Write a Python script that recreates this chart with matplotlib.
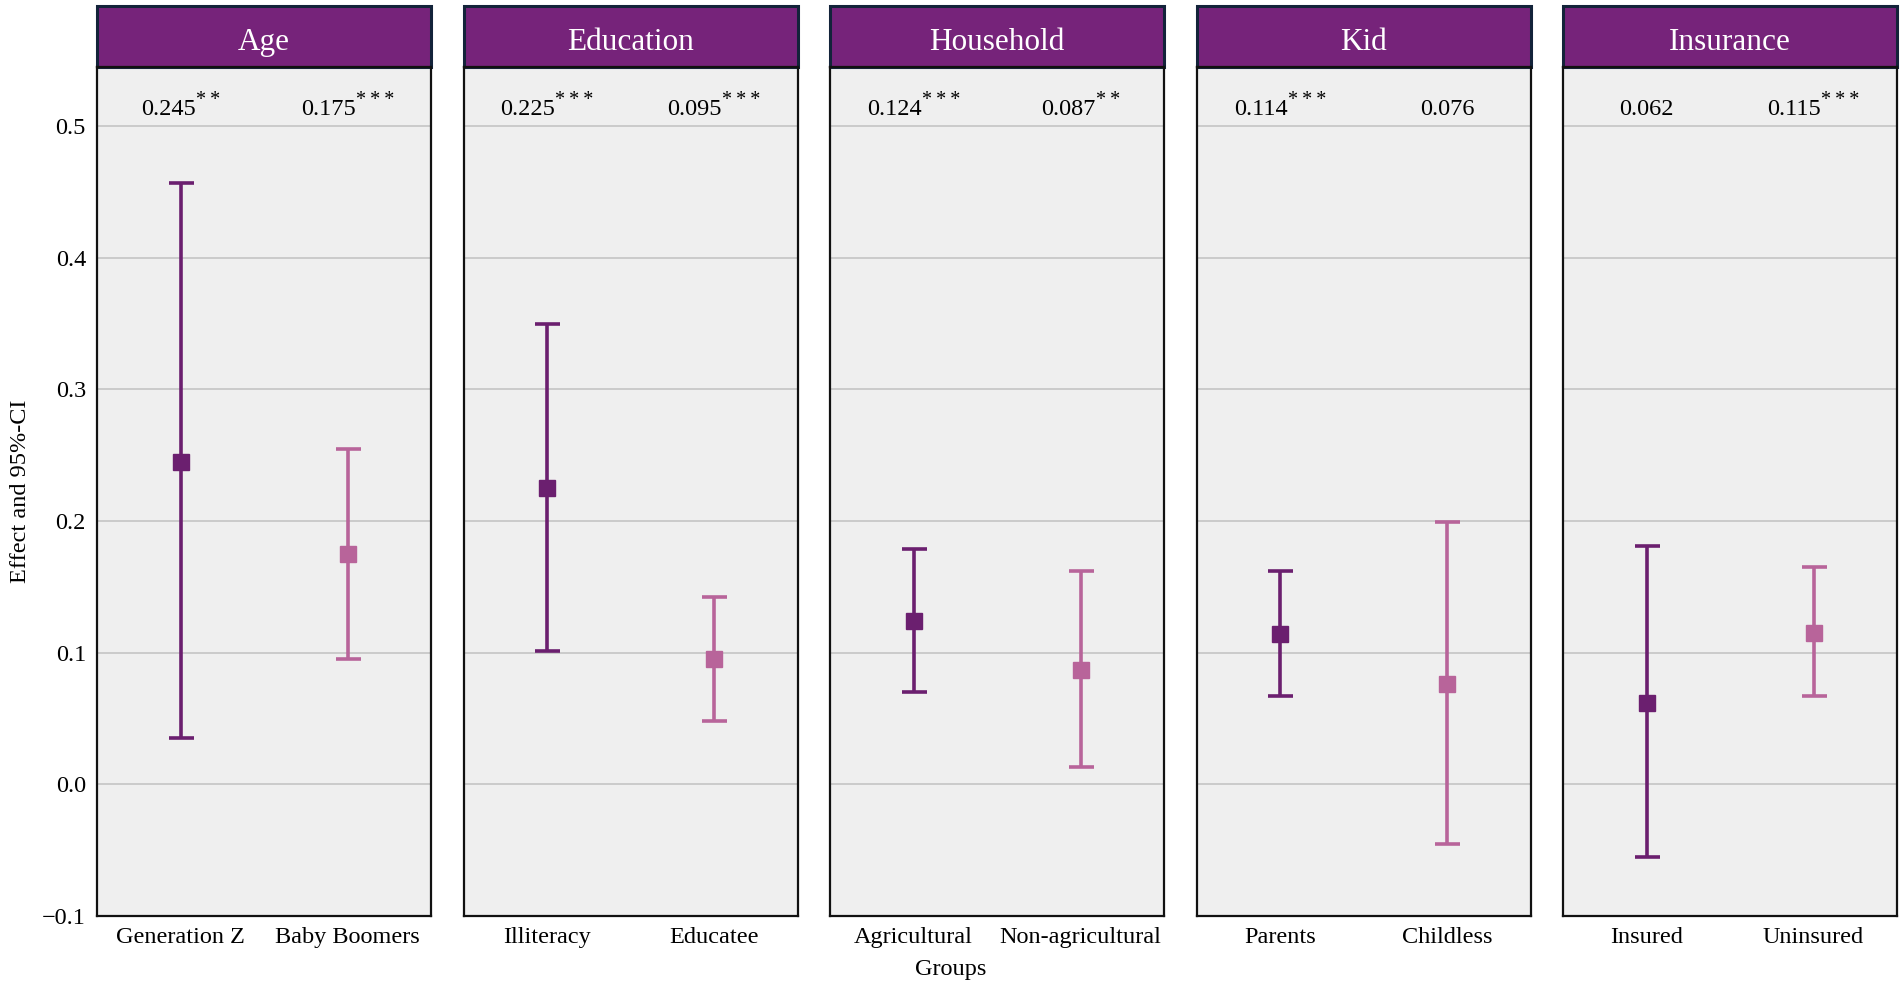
import matplotlib.pyplot as plt
from matplotlib.patches import Rectangle
from matplotlib.transforms import offset_copy

plt.rcParams['font.family'] = ['Liberation Serif', 'DejaVu Serif']

# panels and groups
panels = ['Age', 'Education', 'Household', 'Kid', 'Insurance']
groups = [['Generation Z', 'Baby Boomers'],
          ['Illiteracy', 'Educatee'],
          ['Agricultural', 'Non-agricultural'],
          ['Parents', 'Childless'],
          ['Insured', 'Uninsured']]
effects = [[0.245, 0.175], [0.225, 0.095], [0.124, 0.087], [0.114, 0.076], [0.062, 0.115]]
ci_low = [[0.035, 0.095], [0.101, 0.048], [0.070, 0.013], [0.067, -0.045], [-0.055, 0.067]]
ci_high = [[0.457, 0.255], [0.350, 0.142], [0.179, 0.162], [0.162, 0.199], [0.181, 0.165]]
stars = [['**', '***'], ['***', '***'], ['***', '**'], ['***', ''], ['', '***']]

colors = ['#6b1f6f', '#b8649a']
header_color = '#76237a'

fig = plt.figure(figsize=(19.02, 9.92), dpi=100)
W, H = 1902, 992
left0, width, gap = 97, 334, 32.5
bottom, top = 916, 67
header_h = 61

labels = []  # (axes, x, number text, star text)
for i, name in enumerate(panels):
    x0 = left0 + i * (width + gap)
    ax = fig.add_axes([x0 / W, 1 - bottom / H, width / W, (bottom - top) / H])
    ax.set_facecolor('#efefef')
    ax.set_xlim(-0.5, 1.5)
    ax.set_ylim(-0.1, 0.545)
    ax.set_yticks([-0.1, 0.0, 0.1, 0.2, 0.3, 0.4, 0.5])
    ax.yaxis.grid(True, color='#c4c4c4', linewidth=1.2)
    ax.set_axisbelow(True)
    for s in ax.spines.values():
        s.set_linewidth(1.6)
        s.set_color('#111111')

    for j in range(2):
        e = effects[i][j]
        err = [[e - ci_low[i][j]], [ci_high[i][j] - e]]
        ax.errorbar([j], [e], yerr=err, fmt='s', color=colors[j], ecolor=colors[j],
                    markersize=11.5, elinewidth=2.6, capsize=9, capthick=2.6, zorder=3)
        labels.append((ax, j, '%.3f' % e, stars[i][j]))

    ax.set_xticks([0, 1])
    ax.set_xticklabels(groups[i], fontsize=17.5)
    ax.tick_params(axis='both', length=0, pad=8)
    if i == 0:
        ax.set_yticklabels(['\u22120.1', '0.0', '0.1', '0.2', '0.3', '0.4', '0.5'], fontsize=17.5)
        ax.set_ylabel('Effect and 95%-CI', fontsize=17.5, labelpad=8)
    else:
        ax.set_yticklabels([])

    hh = header_h / (bottom - top)
    ax.add_patch(Rectangle((0, 1), 1, hh, transform=ax.transAxes, clip_on=False,
                           facecolor=header_color, edgecolor='#13233a', linewidth=2.2))
    ax.text(0.5, 1 + hh / 2 - 0.007, name, transform=ax.transAxes, ha='center', va='center',
            color='white', fontsize=22.5)

fig.text(0.5, 1 - 970 / H, 'Groups', ha='center', va='center', fontsize=17.5)

# value labels with superscript stars, centred as a whole
renderer = fig.canvas.get_renderer()
for ax, j, num, st in labels:
    t = ax.text(j, 0.513, num, ha='left', va='center', fontsize=17.5)
    wn = t.get_window_extent(renderer).width
    ws = 0
    if st:
        s = ax.text(j, 0.513, '\u2009'.join(st), ha='left', va='center', fontsize=14.5)
        ws = s.get_window_extent(renderer).width
    total = (wn + ws) * 72 / fig.dpi
    t.set_transform(offset_copy(ax.transData, fig=fig, x=-total / 2, y=0, units='points'))
    if st:
        s.set_transform(offset_copy(ax.transData, fig=fig, x=-total / 2 + wn * 72 / fig.dpi,
                                    y=6, units='points'))

fig.savefig('out.png', dpi=100, facecolor='white')
